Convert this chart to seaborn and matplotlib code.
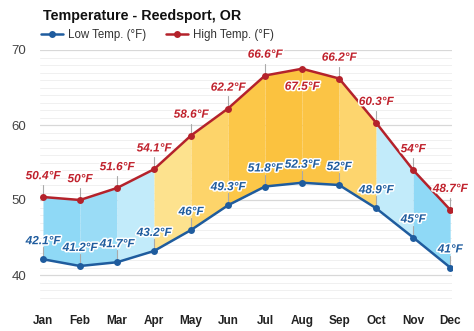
import numpy as np
import pandas as pd
import matplotlib
matplotlib.use("Agg")
import matplotlib.pyplot as plt
import matplotlib.patheffects as pe
import seaborn as sns

months = ["Jan", "Feb", "Mar", "Apr", "May", "Jun", "Jul", "Aug", "Sep", "Oct", "Nov", "Dec"]
low_temp = [42.1, 41.2, 41.7, 43.2, 46.0, 49.3, 51.8, 52.3, 52.0, 48.9, 45.0, 41.0]
high_temp = [50.4, 50.0, 51.6, 54.1, 58.6, 62.2, 66.6, 67.5, 66.2, 60.3, 54.0, 48.7]
low_labels = ["42.1°F", "41.2°F", "41.7°F", "43.2°F", "46°F", "49.3°F", "51.8°F", "52.3°F", "52°F", "48.9°F", "45°F", "41°F"]
high_labels = ["50.4°F", "50°F", "51.6°F", "54.1°F", "58.6°F", "62.2°F", "66.6°F", "67.5°F", "66.2°F", "60.3°F", "54°F", "48.7°F"]
segment_colors = ["#8fd9f6", "#9adcf6", "#c2ebfa", "#fde28e", "#fdd46a", "#fcc748",
                  "#fbc23f", "#fbc445", "#fdd56e", "#c2ebfa", "#8fd9f6"]

sns.set_theme(style="white")
plt.rcParams['font.family'] = ['Liberation Sans', 'DejaVu Sans']

df = pd.DataFrame({"x": np.arange(len(months)), "low": low_temp, "high": high_temp})

fig = plt.figure(figsize=(4.74, 3.31), dpi=100)
ax = fig.add_axes([40 / 474, 1 - 305 / 331, (452 - 40) / 474, (305 - 50) / 331])

ax.set_xlim(-0.08, 11.05)
ax.set_ylim(36, 70)

# grid lines
for v in range(36, 71):
    if v % 10 == 0:
        ax.axhline(v, color="#d8d8d8", lw=0.9, zorder=0)
    else:
        ax.axhline(v, color="#f0f0f0", lw=0.7, zorder=0)

# fills
for i in range(len(months) - 1):
    xs = df["x"].iloc[i:i + 2]
    ax.fill_between(xs, df["low"].iloc[i:i + 2], df["high"].iloc[i:i + 2],
                    color=segment_colors[i], lw=0, zorder=1)

sns.lineplot(data=df, x="x", y="low", ax=ax, color="#1f5c9e", lw=1.8, marker="o",
             markersize=5, markeredgewidth=0, zorder=3, label="Low Temp. (°F)")
sns.lineplot(data=df, x="x", y="high", ax=ax, color="#b4222b", lw=1.8, marker="o",
             markersize=5, markeredgewidth=0, zorder=3, label="High Temp. (°F)")

outline = [pe.withStroke(linewidth=2.2, foreground="white")]
for i in range(len(months)):
    # high labels
    if i == 7:
        ax.annotate(high_labels[i], (i, high_temp[i]), xytext=(0, -13), textcoords="offset points",
                    ha="center", va="center", fontsize=8.5, fontweight="bold", style="italic",
                    color="#c0212c", path_effects=outline, zorder=5)
    else:
        ax.plot([i, i], [high_temp[i], high_temp[i] + 1.6], color="#aaaaaa", lw=0.8, zorder=2)
        ax.annotate(high_labels[i], (i, high_temp[i]), xytext=(0, 15), textcoords="offset points",
                    ha="center", va="center", fontsize=8.5, fontweight="bold", style="italic",
                    color="#c0212c", path_effects=outline, zorder=5)
    ax.plot([i, i], [low_temp[i], low_temp[i] + 1.6], color="#aaaaaa", lw=0.8, zorder=2)
    ax.annotate(low_labels[i], (i, low_temp[i]), xytext=(0, 13), textcoords="offset points",
                ha="center", va="center", fontsize=8.5, fontweight="bold", style="italic",
                color="#1f5c9e", path_effects=outline, zorder=5)

ax.set_xticks(range(len(months)))
ax.set_xticklabels(months, fontsize=8.5, fontweight="bold", color="#222222")
ax.set_yticks([40, 50, 60, 70])
ax.set_yticklabels(["40", "50", "60", "70"], fontsize=9.5, color="#444444")
ax.tick_params(axis="x", length=0, pad=7)
ax.tick_params(axis="y", length=0, pad=10)
ax.set_xlabel("")
ax.set_ylabel("")
for s in ax.spines.values():
    s.set_visible(False)

handles, labels = ax.get_legend_handles_labels()
ax.get_legend().remove()
leg = fig.legend(handles, labels, loc="center left", bbox_to_anchor=(41 / 474, 1 - 35 / 331),
                 ncol=2, frameon=False, fontsize=8.3, handlelength=1.9, columnspacing=1.8,
                 handletextpad=0.4, borderaxespad=0, borderpad=0)
for t in leg.get_texts():
    t.set_color("#333333")

fig.text(43 / 474, 1 - 16 / 331, "Temperature - Reedsport, OR", fontsize=10.3,
         fontweight="bold", color="#111111", va="center", ha="left")

fig.savefig("out.png", dpi=100)
